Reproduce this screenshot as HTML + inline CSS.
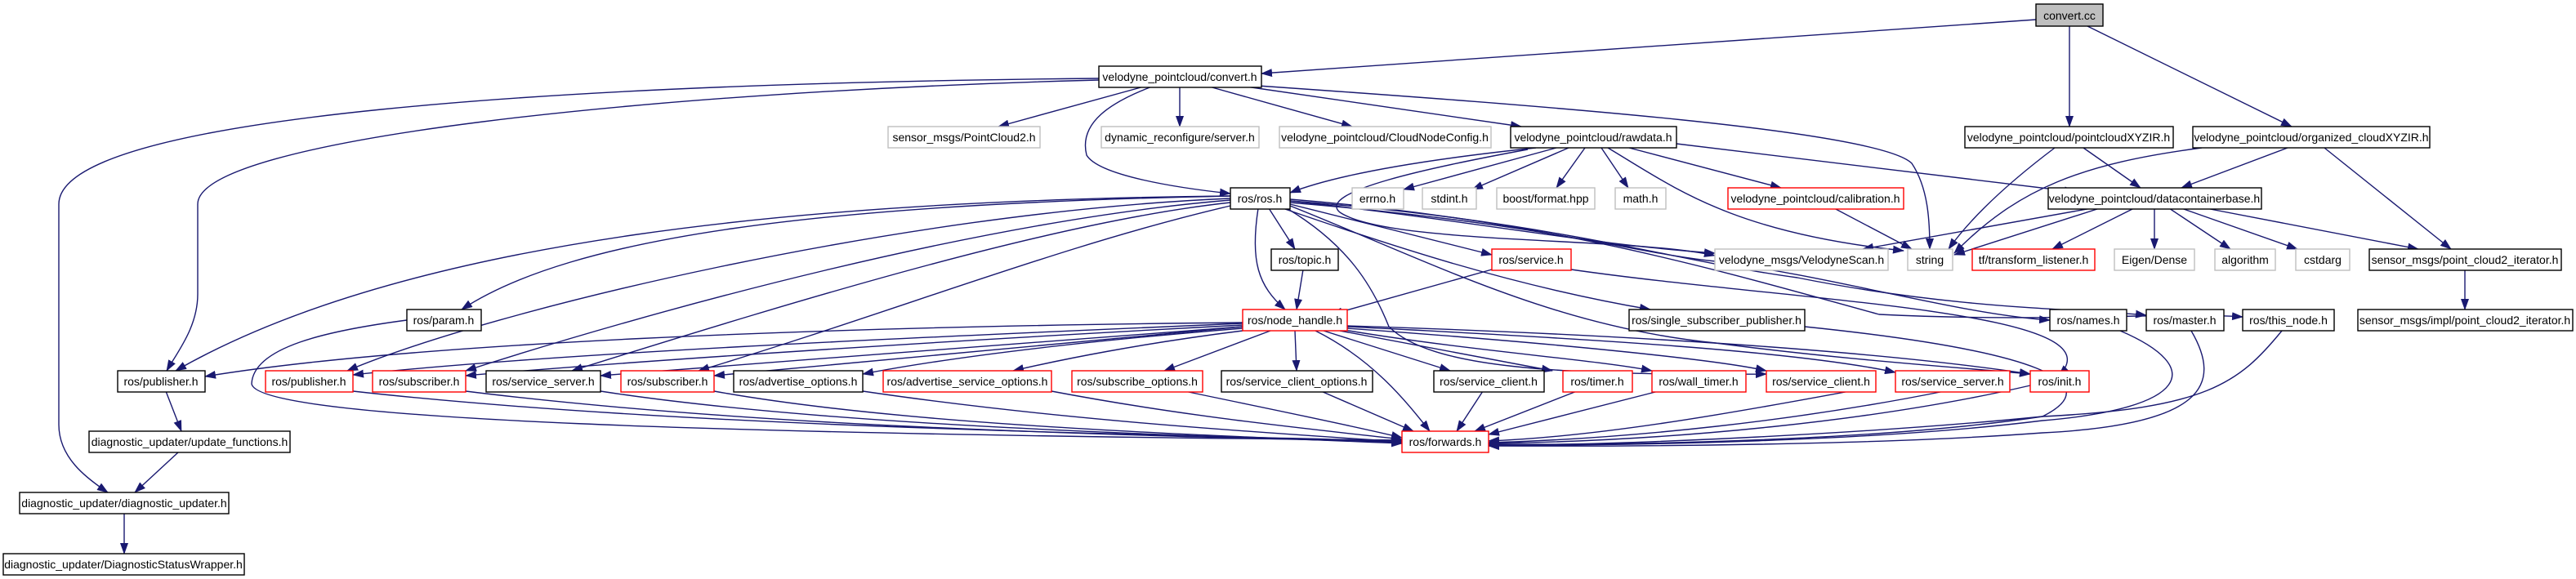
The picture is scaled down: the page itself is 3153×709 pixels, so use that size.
<!DOCTYPE html>
<html><head><meta charset="utf-8"><style>
html,body{margin:0;padding:0;background:#fff;}
svg{display:block;}
text{font-family:"Liberation Sans",sans-serif;font-size:14px;fill:#000;}
</style></head><body>
<svg width="3153" height="709" viewBox="0 0 3153 709" xmlns="http://www.w3.org/2000/svg">
<defs>
<marker id="a" markerUnits="userSpaceOnUse" markerWidth="14" markerHeight="10" refX="13" refY="5" orient="auto">
<path d="M0,0 L14,5 L0,10 Z" fill="#191970"/>
</marker>
</defs>
<g fill="none" stroke="#191970" stroke-width="1.4" marker-end="url(#a)">
<path d="M2492,24 L1544,90"/>
<path d="M2533,32 L2533,155"/>
<path d="M2555,32 L2805,155"/>
<path d="M1345,96 C700,102 72,140 72,250 L72,520 C72,560 105,585 132,603"/>
<path d="M1345,98 C800,112 242,170 242,250 L242,360 C242,400 218,430 204,454"/>
<path d="M1400,106 L1222,155"/>
<path d="M1444,106 L1444,155"/>
<path d="M1480,106 L1655,155"/>
<path d="M1525,106 L1862,155"/>
<path d="M1410,106 C1360,125 1320,150 1330,190 C1345,215 1440,230 1506,237"/>
<path d="M1525,104 C1900,130 2300,160 2340,200 C2360,230 2362,270 2362,305"/>
<path d="M1880,181 C1700,200 1620,220 1579,236"/>
<path d="M1905,181 L1718,232"/>
<path d="M1920,181 L1802,232"/>
<path d="M1940,181 L1905,230"/>
<path d="M1960,181 L1993,230"/>
<path d="M1994,181 L2180,230"/>
<path d="M1968,181 C2050,230 2120,285 2330,307"/>
<path d="M2052,176 L2540,235"/>
<path d="M1870,183 C1750,205 1610,235 1640,260 C1700,300 2000,290 2099,313"/>
<path d="M2245,255 L2340,305"/>
<path d="M2515,181 C2450,230 2410,270 2385,305"/>
<path d="M2550,181 L2620,230"/>
<path d="M2695,181 C2550,200 2470,230 2392,310"/>
<path d="M2800,181 L2670,230"/>
<path d="M2845,181 L3000,305"/>
<path d="M2570,255 L2392,312"/>
<path d="M2560,255 L2280,305"/>
<path d="M2612,255 L2512,305"/>
<path d="M2637,255 L2637,305"/>
<path d="M2655,255 L2730,305"/>
<path d="M2670,255 L2812,305"/>
<path d="M2700,255 L2960,305"/>
<path d="M3017,330 L3017,379"/>
<path d="M1506,240 C1000,245 500,290 215,454"/>
<path d="M1506,240 C1000,250 700,290 565,379"/>
<path d="M1506,243 C1100,260 600,380 425,454"/>
<path d="M1506,245 C1200,270 800,380 570,454"/>
<path d="M1506,248 C1300,270 1000,360 700,454"/>
<path d="M1506,252 C1300,300 1100,380 855,454"/>
<path d="M1553,255 L1585,305"/>
<path d="M1540,255 C1530,320 1540,350 1573,379"/>
<path d="M1579,250 L1826,312"/>
<path d="M1570,255 C1700,300 1850,350 2020,379"/>
<path d="M1579,246 C1800,270 1950,300 2099,310"/>
<path d="M1579,248 C1900,275 2000,310 2100,320 C2250,340 2400,385 2509,392"/>
<path d="M1579,246 C1900,270 2050,320 2200,340 C2400,380 2550,378 2627,386"/>
<path d="M1579,244 C1900,270 2100,330 2300,385 C2500,395 2650,382 2745,388"/>
<path d="M1579,252 C1750,320 1900,400 2100,420 C2250,440 2400,450 2485,458"/>
<path d="M1575,255 C1650,300 1680,350 1700,400 C1750,450 1900,460 2162,458"/>
<path d="M1595,330 L1587,379"/>
<path d="M1826,330 L1630,385"/>
<path d="M1923,330 C2200,370 2600,380 2520,460"/>
<path d="M1521,395 C1000,400 500,420 251,461"/>
<path d="M1521,396 C1200,410 700,430 432,459"/>
<path d="M1521,398 C1200,415 800,440 570,460"/>
<path d="M1521,400 C1300,415 1000,440 735,460"/>
<path d="M1521,400 C1300,420 1100,440 874,460"/>
<path d="M1521,402 C1300,420 1150,440 1056,458"/>
<path d="M1521,405 C1400,420 1300,440 1240,454"/>
<path d="M1555,405 L1425,454"/>
<path d="M1585,405 L1587,454"/>
<path d="M1620,405 L1775,454"/>
<path d="M1640,405 L1900,454"/>
<path d="M1645,404 C1800,430 1950,440 2022,454"/>
<path d="M1649,402 C1900,420 2100,440 2162,454"/>
<path d="M1649,400 C1950,415 2200,430 2320,456"/>
<path d="M1649,399 C2000,410 2300,430 2485,458"/>
<path d="M1610,405 C1680,440 1720,490 1750,528"/>
<path d="M498,392 C400,405 310,425 308,470 C315,515 900,532 1716,539"/>
<path d="M432,479 C800,520 1300,530 1716,540"/>
<path d="M570,479 C900,520 1300,532 1716,541"/>
<path d="M735,479 C1000,520 1400,532 1716,542"/>
<path d="M874,479 C1100,520 1450,532 1716,543"/>
<path d="M1056,479 C1300,515 1550,530 1716,541"/>
<path d="M1287,479 C1450,510 1600,525 1716,538"/>
<path d="M1450,479 C1550,500 1650,520 1716,536"/>
<path d="M1617,479 L1730,528"/>
<path d="M1815,479 L1783,528"/>
<path d="M1930,479 L1805,528"/>
<path d="M2030,479 L1822,532"/>
<path d="M2296,473 C2100,510 1950,535 1822,540"/>
<path d="M2380,479 C2200,515 2000,537 1822,542"/>
<path d="M2485,472 C2300,515 2050,540 1822,543"/>
<path d="M2209,400 C2500,430 2580,470 2500,510 C2300,540 2000,545 1822,544"/>
<path d="M2595,405 C2700,450 2680,500 2500,515 C2300,540 2000,546 1822,545"/>
<path d="M2682,405 C2720,470 2700,520 2500,530 C2300,545 2000,547 1822,546"/>
<path d="M2793,405 C2740,470 2700,500 2500,510 C2300,530 2000,545 1822,545"/>
<path d="M203,479 L222,528"/>
<path d="M218,554 L165,603"/>
<path d="M152,628 L152,678"/>
</g>
<g stroke-width="1.4">
<rect x="2492" y="5" width="82" height="27" fill="#bfbfbf" stroke="#000"/>
<g fill="#fff" stroke="#000">
<rect x="1345" y="81" width="199" height="26"/>
<rect x="1849" y="155" width="203" height="26"/>
<rect x="2405" y="155" width="255" height="26"/>
<rect x="2684" y="155" width="290" height="26"/>
<rect x="1506" y="230" width="73" height="26"/>
<rect x="2507" y="230" width="261" height="26"/>
<rect x="1556" y="305" width="82" height="26"/>
<rect x="2900" y="305" width="235" height="26"/>
<rect x="498" y="379" width="91" height="26"/>
<rect x="1994" y="379" width="215" height="26"/>
<rect x="2509" y="379" width="94" height="26"/>
<rect x="2627" y="379" width="95" height="26"/>
<rect x="2745" y="379" width="112" height="26"/>
<rect x="2886" y="379" width="263" height="26"/>
<rect x="144" y="454" width="107" height="26"/>
<rect x="595" y="454" width="140" height="26"/>
<rect x="898" y="454" width="158" height="26"/>
<rect x="1495" y="454" width="185" height="26"/>
<rect x="1755" y="454" width="135" height="26"/>
<rect x="109" y="528" width="246" height="26"/>
<rect x="24" y="603" width="256" height="26"/>
<rect x="4" y="678" width="295" height="26"/>
</g>
<g fill="#fff" stroke="#bfbfbf">
<rect x="1087" y="155" width="186" height="26"/>
<rect x="1348" y="155" width="193" height="26"/>
<rect x="1566" y="155" width="259" height="26"/>
<rect x="1655" y="230" width="63" height="26"/>
<rect x="1741" y="230" width="66" height="26"/>
<rect x="1832" y="230" width="120" height="26"/>
<rect x="1977" y="230" width="62" height="26"/>
<rect x="2099" y="305" width="212" height="26"/>
<rect x="2335" y="305" width="55" height="26"/>
<rect x="2588" y="305" width="98" height="26"/>
<rect x="2711" y="305" width="74" height="26"/>
<rect x="2810" y="305" width="66" height="26"/>
</g>
<g fill="#fff" stroke="#ff0000">
<rect x="2115" y="230" width="215" height="26"/>
<rect x="1826" y="305" width="97" height="26"/>
<rect x="2414" y="305" width="150" height="26"/>
<rect x="1521" y="379" width="128" height="26"/>
<rect x="325" y="454" width="107" height="26"/>
<rect x="456" y="454" width="114" height="26"/>
<rect x="760" y="454" width="114" height="26"/>
<rect x="1081" y="454" width="206" height="26"/>
<rect x="1312" y="454" width="160" height="26"/>
<rect x="1913" y="454" width="85" height="26"/>
<rect x="2022" y="454" width="115" height="26"/>
<rect x="2162" y="454" width="134" height="26"/>
<rect x="2320" y="454" width="140" height="26"/>
<rect x="2485" y="454" width="72" height="26"/>
<rect x="1716" y="528" width="106" height="26"/>
</g>
</g>
<g text-anchor="middle">
<text x="2533" y="24">convert.cc</text>
<text x="1444" y="99">velodyne_pointcloud/convert.h</text>
<text x="1180" y="173">sensor_msgs/PointCloud2.h</text>
<text x="1444" y="173">dynamic_reconfigure/server.h</text>
<text x="1695" y="173">velodyne_pointcloud/CloudNodeConfig.h</text>
<text x="1950" y="173">velodyne_pointcloud/rawdata.h</text>
<text x="2532" y="173">velodyne_pointcloud/pointcloudXYZIR.h</text>
<text x="2829" y="173">velodyne_pointcloud/organized_cloudXYZIR.h</text>
<text x="1542" y="248">ros/ros.h</text>
<text x="1686" y="248">errno.h</text>
<text x="1774" y="248">stdint.h</text>
<text x="1892" y="248">boost/format.hpp</text>
<text x="2008" y="248">math.h</text>
<text x="2222" y="248">velodyne_pointcloud/calibration.h</text>
<text x="2637" y="248">velodyne_pointcloud/datacontainerbase.h</text>
<text x="1597" y="323">ros/topic.h</text>
<text x="1874" y="323">ros/service.h</text>
<text x="2205" y="323">velodyne_msgs/VelodyneScan.h</text>
<text x="2362" y="323">string</text>
<text x="2489" y="323">tf/transform_listener.h</text>
<text x="2637" y="323">Eigen/Dense</text>
<text x="2748" y="323">algorithm</text>
<text x="2843" y="323">cstdarg</text>
<text x="3017" y="323">sensor_msgs/point_cloud2_iterator.h</text>
<text x="543" y="397">ros/param.h</text>
<text x="1585" y="397">ros/node_handle.h</text>
<text x="2101" y="397">ros/single_subscriber_publisher.h</text>
<text x="2556" y="397">ros/names.h</text>
<text x="2674" y="397">ros/master.h</text>
<text x="2801" y="397">ros/this_node.h</text>
<text x="3017" y="397">sensor_msgs/impl/point_cloud2_iterator.h</text>
<text x="197" y="472">ros/publisher.h</text>
<text x="378" y="472">ros/publisher.h</text>
<text x="513" y="472">ros/subscriber.h</text>
<text x="665" y="472">ros/service_server.h</text>
<text x="817" y="472">ros/subscriber.h</text>
<text x="977" y="472">ros/advertise_options.h</text>
<text x="1184" y="472">ros/advertise_service_options.h</text>
<text x="1392" y="472">ros/subscribe_options.h</text>
<text x="1587" y="472">ros/service_client_options.h</text>
<text x="1822" y="472">ros/service_client.h</text>
<text x="1955" y="472">ros/timer.h</text>
<text x="2079" y="472">ros/wall_timer.h</text>
<text x="2229" y="472">ros/service_client.h</text>
<text x="2390" y="472">ros/service_server.h</text>
<text x="2521" y="472">ros/init.h</text>
<text x="232" y="546">diagnostic_updater/update_functions.h</text>
<text x="1769" y="546">ros/forwards.h</text>
<text x="152" y="621">diagnostic_updater/diagnostic_updater.h</text>
<text x="151" y="696">diagnostic_updater/DiagnosticStatusWrapper.h</text>
</g>
</svg>
</body></html>
